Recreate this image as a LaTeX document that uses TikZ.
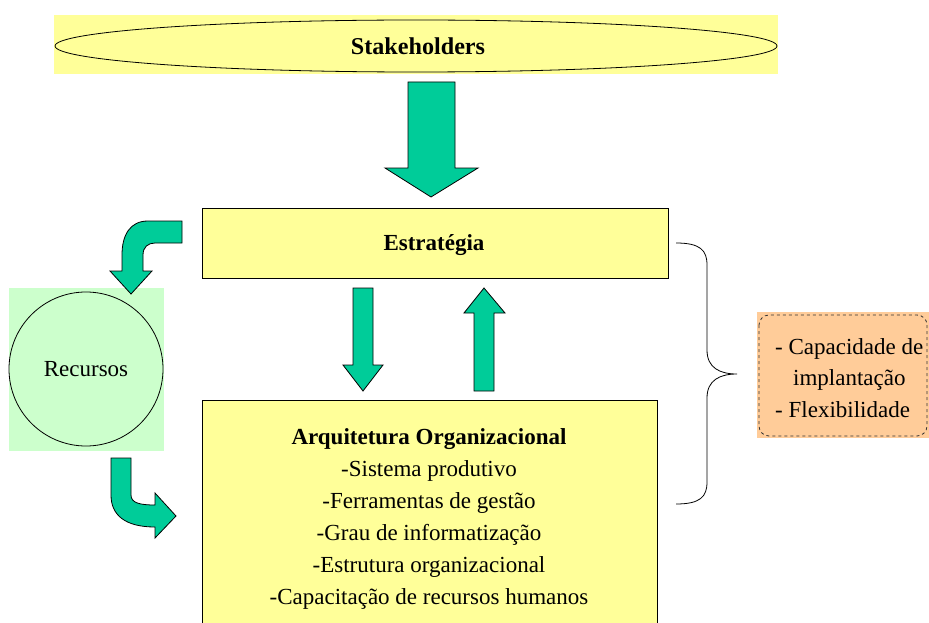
\documentclass[tikz,border=0pt]{standalone}
\usepackage{fontspec}
\setmainfont{Liberation Serif}
\newfontfamily\tnr{Liberation Serif}
\definecolor{ylw}{HTML}{FFFF99}
\definecolor{arrowgreen}{HTML}{00CC99}
\definecolor{paleGreen}{HTML}{CCFFCC}
\definecolor{peach}{HTML}{FFCC99}
\tikzset{
  fatarrow/.style={fill=arrowgreen, draw=black, line width=0.8pt, line join=miter},
  ybox/.style={fill=ylw, draw=black, line width=0.8pt},
  txt/.style={font=\tnr\fontsize{23}{31.5}\selectfont, align=center, inner sep=0pt},
  btxt/.style={font=\tnr\fontsize{23}{28}\selectfont\bfseries, inner sep=0pt},
}
\begin{document}
\begin{tikzpicture}[x=1pt, y=-1pt]
\useasboundingbox (0,0) rectangle (929,623);
% Stakeholders
\fill[ylw] (54,15) rectangle (778,74);
\draw[line width=0.8pt] (416,46) ellipse [x radius=361, y radius=26];
\node[btxt, xscale=1.05, yscale=1.05] (stake) at (418,46) {Stakeholders};
\draw[fatarrow] (408,82) -- (455,82) -- (455,168) -- (478,168) -- (431,197) -- (385,168) -- (408,168) -- cycle;
% Estrategia
\draw[ybox] (202,208) rectangle (668,278);
\node[btxt] (estr) at (434,245) {Estratégia};
% middle arrows
\draw[fatarrow] (353,288) -- (373,288) -- (373,365) -- (383,365) -- (363,391) -- (343,365) -- (353,365) -- cycle;
\draw[fatarrow] (474,391) -- (494,391) -- (494,313) -- (505,313) -- (484,288) -- (464,313) -- (474,313) -- cycle;
% Arquitetura
\draw[ybox] (202,400) rectangle (657,640);
\node[txt, anchor=north, font=\tnr\fontsize{23}{32}\selectfont] (arq) at (429,428) {\textbf{Arquitetura Organizacional}\\-Sistema produtivo\\-Ferramentas de gestão\\-Grau de informatização\\-Estrutura organizacional\\-Capacitação de recursos humanos};
% Recursos
\fill[paleGreen] (9,288) rectangle (164,451);
\draw[line width=0.8pt] (86,369) circle [radius=77];
\node[txt] (rec) at (86,369) {Recursos};
% curved arrows
\draw[fatarrow] (182,221) -- (148,221) .. controls (130,221) and (122,235) .. (122,255) -- (122,271) -- (110,271) -- (131,294) -- (152,271) -- (143,271) -- (143,255) .. controls (143,247) and (148,243) .. (155,243) -- (182,243) -- cycle;
\draw[fatarrow] (111,458) -- (131,458) -- (131,495) .. controls (131,503) and (140,505) .. (155,505) -- (155,493) -- (176,516) -- (155,538) -- (155,527) .. controls (125,527) and (111,515) .. (111,495) -- cycle;
% brace
\draw[line width=0.8pt] (676,243) .. controls (700,243) and (707,250) .. (707,265) -- (707,350) .. controls (707,368) and (720,374) .. (737,374) .. controls (720,374) and (707,380) .. (707,398) -- (707,482) .. controls (707,497) and (700,504) .. (676,504);
% capacidade box
\fill[peach] (757,312) rectangle (929,438);
\draw[dashed, line width=0.8pt, rounded corners=10pt, draw=black!80] (759,315) rectangle (927,436);
\node[txt, align=left, anchor=west] (cap) at (775,378) {- Capacidade de\\\hspace*{18pt}implantação\\- Flexibilidade};
\end{tikzpicture}
\end{document}
